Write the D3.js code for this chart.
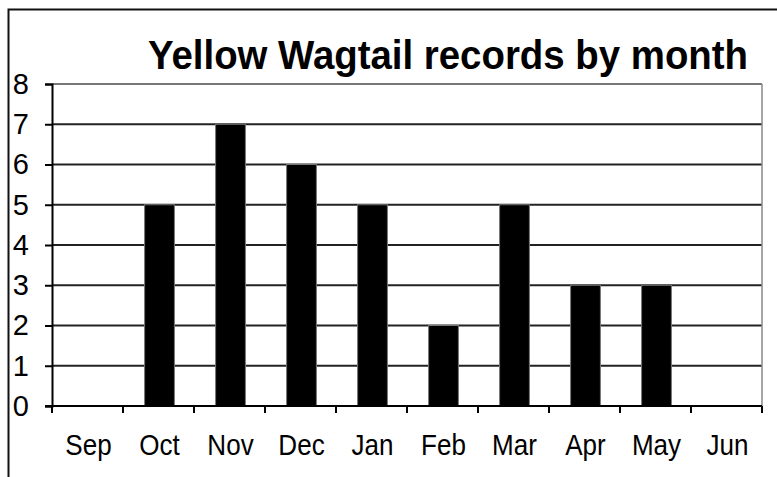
<!DOCTYPE html>
<html>
<head>
<meta charset="utf-8">
<script src="https://cdn.jsdelivr.net/npm/d3@7"></script>
<style>
  body { margin: 0; background: #fff; }
  text { font-family: "Liberation Sans", Arial, sans-serif; fill: #000; }
</style>
</head>
<body>
<div id="chart"></div>
<script>
var months = ["Sep", "Oct", "Nov", "Dec", "Jan", "Feb", "Mar", "Apr", "May", "Jun"];
var records = [0, 5, 7, 6, 5, 2, 5, 3, 3, 0];
var yTicks = [0, 1, 2, 3, 4, 5, 6, 7, 8];

var w = 777, h = 477;
var plot = {left: 52, top: 84, right: 762, bottom: 406};

var svg = d3.select("#chart").append("svg").attr("width", w).attr("height", h);

// outer chart frame (runs off the right and bottom of the picture)
svg.append("rect")
    .attr("x", 8.5).attr("y", 9.5)
    .attr("width", 820).attr("height", 520)
    .attr("fill", "none").attr("stroke", "#111").attr("stroke-width", 2);

var xScale = d3.scaleBand().domain(months).range([plot.left, plot.right]).padding(0);
var yScale = d3.scaleLinear().domain([0, 8]).range([plot.bottom, plot.top]);

// gridlines
svg.append("g").selectAll("line")
    .data(yTicks.filter(function(d){ return d > 0; }))
    .enter().append("line")
    .attr("x1", plot.left).attr("x2", plot.right)
    .attr("y1", function(d){ return yScale(d); })
    .attr("y2", function(d){ return yScale(d); })
    .attr("stroke", function(d){ return d == 8 ? "#777" : "#222"; })
    .attr("stroke-width", 2);

// plot area right edge
svg.append("line")
    .attr("x1", plot.right).attr("x2", plot.right)
    .attr("y1", plot.top).attr("y2", plot.bottom)
    .attr("stroke", "#888").attr("stroke-width", 1.5);

// bars
var barW = xScale.bandwidth() * 0.42;
svg.append("g").selectAll("rect")
    .data(records)
    .enter().append("rect")
    .attr("x", function(d, i){ return xScale(months[i]) + (xScale.bandwidth() - barW) / 2 + 1; })
    .attr("y", function(d){ return yScale(d); })
    .attr("width", barW)
    .attr("height", function(d){ return yScale(0) - yScale(d); })
    .attr("fill", "#000")
    .attr("stroke", "#777").attr("stroke-width", 1);

// y axis
var yAxis = d3.axisLeft(yScale).tickValues(yTicks).tickSize(7).tickPadding(16).tickFormat(d3.format("d"));
var yg = svg.append("g").attr("transform", "translate(" + plot.left + ",0)").call(yAxis);
yg.select(".domain").attr("stroke", "#000").attr("stroke-width", 2);
yg.selectAll(".tick line").attr("stroke", "#000").attr("stroke-width", 2);
yg.selectAll(".tick text").attr("font-size", 29).attr("font-family", null).attr("fill", "#000");

// x axis with ticks between the categories
svg.append("line")
    .attr("x1", plot.left - 7).attr("x2", plot.right)
    .attr("y1", plot.bottom).attr("y2", plot.bottom)
    .attr("stroke", "#000").attr("stroke-width", 2);

var edges = months.map(function(m){ return xScale(m); }).concat([plot.right]);
svg.append("g").selectAll("line")
    .data(edges)
    .enter().append("line")
    .attr("x1", function(d){ return d; }).attr("x2", function(d){ return d; })
    .attr("y1", plot.bottom).attr("y2", plot.bottom + 7)
    .attr("stroke", "#000").attr("stroke-width", 2);

svg.append("g").selectAll("text")
    .data(months)
    .enter().append("text")
    .attr("transform", function(d){ return "translate(" + (xScale(d) + xScale.bandwidth() / 2 + 1) + ",455) scale(0.93,1.08)"; })
    .attr("text-anchor", "middle")
    .attr("font-size", 28)
    .text(function(d){ return d; });

// title
svg.append("text")
    .attr("x", 448).attr("y", 69)
    .attr("text-anchor", "middle")
    .attr("font-size", 40).attr("font-weight", "bold")
    .attr("textLength", 600).attr("lengthAdjust", "spacingAndGlyphs")
    .text("Yellow Wagtail records by month");
</script>
</body>
</html>
